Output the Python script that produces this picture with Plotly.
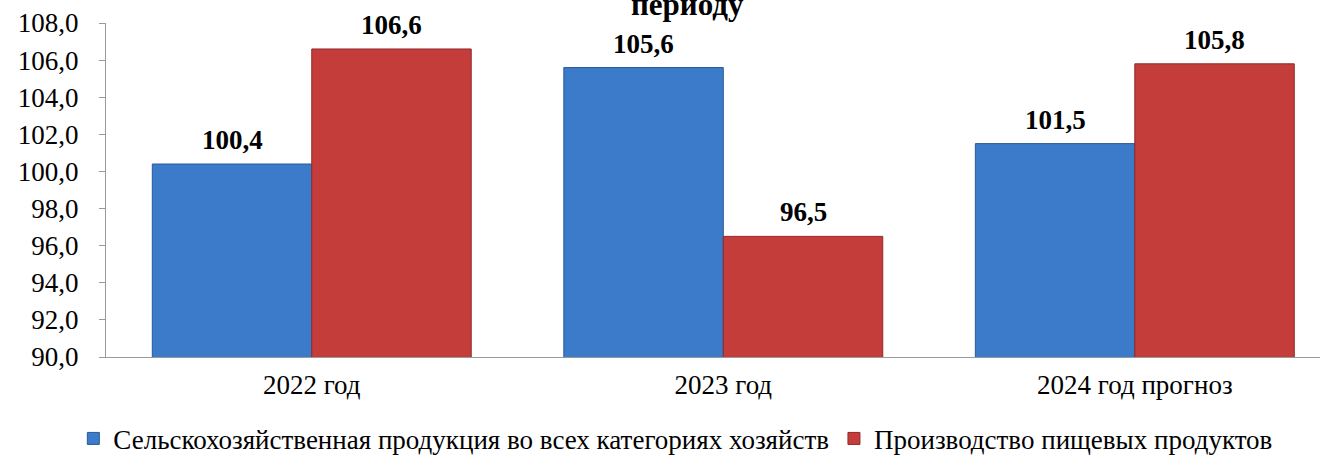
import plotly.graph_objects as go

categories = ["2022 год", "2023 год", "2024 год прогноз"]
series_names = ["Сельскохозяйственная продукция во всех категориях хозяйств",
                "Производство пищевых продуктов"]
agri = [100.4, 105.6, 101.5]
food = [106.6, 96.5, 105.8]
title_tail = "периоду"

font_fam = "Liberation Serif"
W, H = 1320, 461
ML, MR, MT, MB = 106, 0, 23, 104
bargap = 0.225
x_range = [-0.5, 2.45]

fig = go.Figure()
fig.add_trace(go.Bar(x=categories, y=agri, name=series_names[0],
                     marker=dict(color="#3c7bc9", line=dict(color="#2a5a96", width=1))))
fig.add_trace(go.Bar(x=categories, y=food, name=series_names[1],
                     marker=dict(color="#c43d3b", line=dict(color="#8e2a28", width=1))))

# value labels placed above each bar (offset by half the bar width in pixels)
px_per_cat = (W - ML - MR) / (x_range[1] - x_range[0])
half_bar = (1 - bargap) * px_per_cat / 4
annotations = []
for vals, sign in ((agri, -1), (food, 1)):
    for c, v in zip(categories, vals):
        annotations.append(dict(x=c, y=v, xref="x", yref="y", text=f"{v:.1f}".replace(".", ","),
                                showarrow=False, xanchor="center", yanchor="bottom",
                                xshift=sign * half_bar, yshift=7,
                                font=dict(family=font_fam, size=27, color="black", weight="bold")))
annotations.append(dict(text=title_tail, x=0.479, xref="paper", y=0.996, yref="paper",
                        xanchor="center", yanchor="bottom", showarrow=False,
                        font=dict(family=font_fam, size=31, color="black", weight="bold")))

fig.update_layout(
    width=W, height=H,
    margin=dict(l=ML, r=MR, t=MT, b=MB, autoexpand=False),
    paper_bgcolor="white", plot_bgcolor="white",
    barmode="group", bargap=bargap, bargroupgap=0,
    separators=", ",
    font=dict(family=font_fam, size=26, color="black"),
    showlegend=True,
    legend=dict(orientation="h", xref="container", x=0.512, xanchor="center",
                yref="container", y=0.048, yanchor="middle",
                font=dict(family=font_fam, size=27), itemwidth=30,
                traceorder="normal", tracegroupgap=0),
    annotations=annotations,
)
fig.update_yaxes(range=[90, 108], dtick=2, tickformat=".1f", showgrid=False,
                 showline=True, linecolor="#9a9a9a", linewidth=1,
                 ticks="outside", ticklen=6, tickcolor="#9a9a9a",
                 ticklabelstandoff=15, automargin=False,
                 tickfont=dict(family=font_fam, size=27), zeroline=False)
fig.update_xaxes(range=x_range, showgrid=False, showline=True, linecolor="#9a9a9a",
                 linewidth=1, ticks="", ticklabelstandoff=4, automargin=False,
                 tickfont=dict(family=font_fam, size=27))

fig.write_html("out.html", config={"displayModeBar": False},
               post_script="document.body.style.margin='0px';")
